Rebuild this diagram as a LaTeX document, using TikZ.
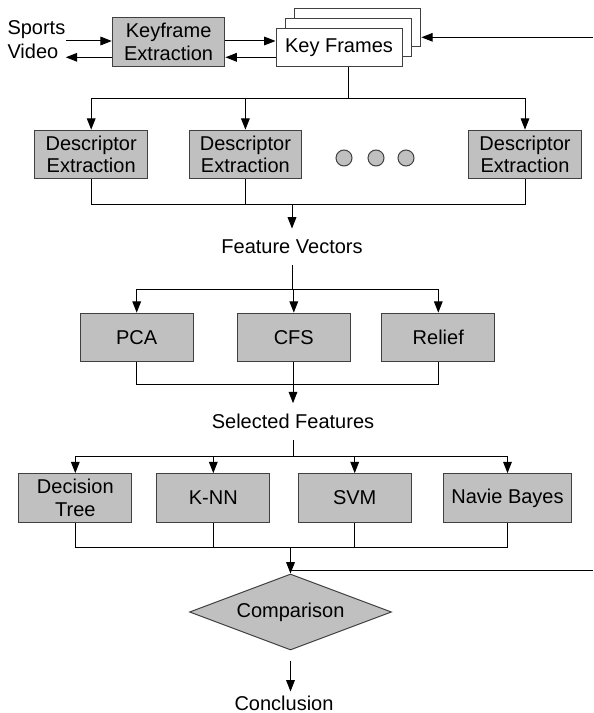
\documentclass[tikz,border=0pt]{standalone}
\usepackage{fontspec}
\setmainfont{Liberation Sans}
\usetikzlibrary{arrows.meta,shapes.geometric}
\definecolor{boxgray}{HTML}{C0C0C0}
\begin{document}
\begin{tikzpicture}[x=0.75pt,y=-0.75pt,line width=0.75pt,
  every node/.style={font=\fontsize{15}{17}\selectfont},
  box/.style={draw=black!75,fill=boxgray,align=center,inner sep=0pt,minimum width=84.5pt,minimum height=36.5pt},
  frame/.style={draw=black!75,fill=white,inner sep=0pt,minimum width=94.5pt,minimum height=28.5pt},
  lbl/.style={inner xsep=2pt,inner ysep=8pt},
  dot/.style={circle,draw=black!75,fill=boxgray,minimum size=12pt,inner sep=0pt},
  arr/.style={-{Triangle[length=8.5pt,width=6.5pt]}}]
\useasboundingbox (0,0) rectangle (593,713);
% key frame extraction
\node[align=left,anchor=west,inner sep=0pt,font=\fontsize{15}{18}\selectfont] (src) at (7,40) {Sports\\Video};
\node[box] (kfe) at (168.6,42) {Keyframe\\Extraction};
\node[frame] (kf3) at (357.9,27.5) {};
\node[frame] (kf2) at (348.3,37.5) {};
\node[frame] (kf) at (339,47.2) {Key Frames};
\coordinate (r1) at (0,41);
\coordinate (r2) at (0,57.3);
\coordinate (fbA) at (593,37.3);
\draw[arr] (src.east |- r1) -- (kfe.west |- r1);
\draw[arr] (kfe.west |- r2) -- (src.east |- r2);
\draw[arr] (kfe.east |- r1) -- (kf.west |- r1);
\draw[arr] (kf.west |- r2) -- (kfe.east |- r2);
\draw[arr] (fbA) -- (kf3.east |- fbA);
% descriptors
\node[box] (d1) at (91.2,154.5) {Descriptor\\Extraction};
\node[box] (d2) at (245.4,154.5) {Descriptor\\Extraction};
\node[box] (d3) at (525,154.5) {Descriptor\\Extraction};
\node[dot] (o1) at (344,158) {};
\node[dot] (o2) at (376,158) {};
\node[dot] (o3) at (406,158) {};
\coordinate (b1) at (0,98.5);
\draw (kf2.south |- kf.south) -- (kf2.south |- b1);
\draw (d1.north |- b1) -- (d3.north |- b1);
\draw[arr] (d1.north |- b1) -- (d1.north);
\draw[arr] (d2.north |- b1) -- (d2.north);
\draw[arr] (d3.north |- b1) -- (d3.north);
\node[lbl] (fv) at (292,246.7) {Feature Vectors};
\coordinate (b2) at (0,204);
\draw (d1.south) -- (d1.south |- b2) -- (d3.south |- b2) -- (d3.south);
\draw (d2.south) -- (d2.south |- b2);
\draw[arr] (fv.north |- b2) -- (fv.north);
% feature selection
\node[box] (pca) at (136.7,337.5) {PCA};
\node[box] (cfs) at (293.8,337.5) {CFS};
\node[box] (rel) at (438.3,337.5) {Relief};
\coordinate (b3) at (0,289.3);
\draw (fv.south) -- (fv.south |- b3);
\draw (pca.north |- b3) -- (rel.north |- b3);
\draw[arr] (pca.north |- b3) -- (pca.north);
\draw[arr] (cfs.north |- b3) -- (cfs.north);
\draw[arr] (rel.north |- b3) -- (rel.north);
\node[lbl] (sf) at (293,421.7) {Selected Features};
\coordinate (b4) at (0,384);
\draw (pca.south) -- (pca.south |- b4) -- (rel.south |- b4) -- (rel.south);
\draw (cfs.south) -- (cfs.south |- b4);
\draw[arr] (sf.north |- b4) -- (sf.north);
% classifiers
\node[box] (dt) at (75.3,498) {Decision\\Tree};
\node[box] (knn) at (213.3,498) {K-NN};
\node[box] (svm) at (354.7,498) {SVM};
\node[box,minimum width=96.3pt] (nb) at (507.5,498) {Navie Bayes};
\coordinate (b5) at (0,456.5);
\draw (sf.south) -- (sf.south |- b5);
\draw (dt.north |- b5) -- (nb.north |- b5);
\draw[arr] (dt.north |- b5) -- (dt.north);
\draw[arr] (knn.north |- b5) -- (knn.north);
\draw[arr] (svm.north |- b5) -- (svm.north);
\draw[arr] (nb.north |- b5) -- (nb.north);
\node[diamond,aspect=2.66,draw=black!75,fill=boxgray,inner sep=0pt,minimum width=151.5pt,minimum height=57pt] (cmp) at (290.5,612) {Comparison};
\coordinate (b6) at (0,547.7);
\draw (dt.south) -- (dt.south |- b6) -- (nb.south |- b6) -- (nb.south);
\draw (knn.south) -- (knn.south |- b6);
\draw (svm.south) -- (svm.south |- b6);
\draw[arr] (cmp.north |- b6) -- (cmp.north);
\coordinate (fbB) at (593,570);
\draw (cmp.north |- fbB) -- (fbB);
\node[lbl,inner ysep=3pt] (concl) at (284,703.3) {Conclusion};
\draw[arr,shorten <=7.5pt] (cmp.south) -- (cmp.south |- concl.north);
\end{tikzpicture}
\end{document}
